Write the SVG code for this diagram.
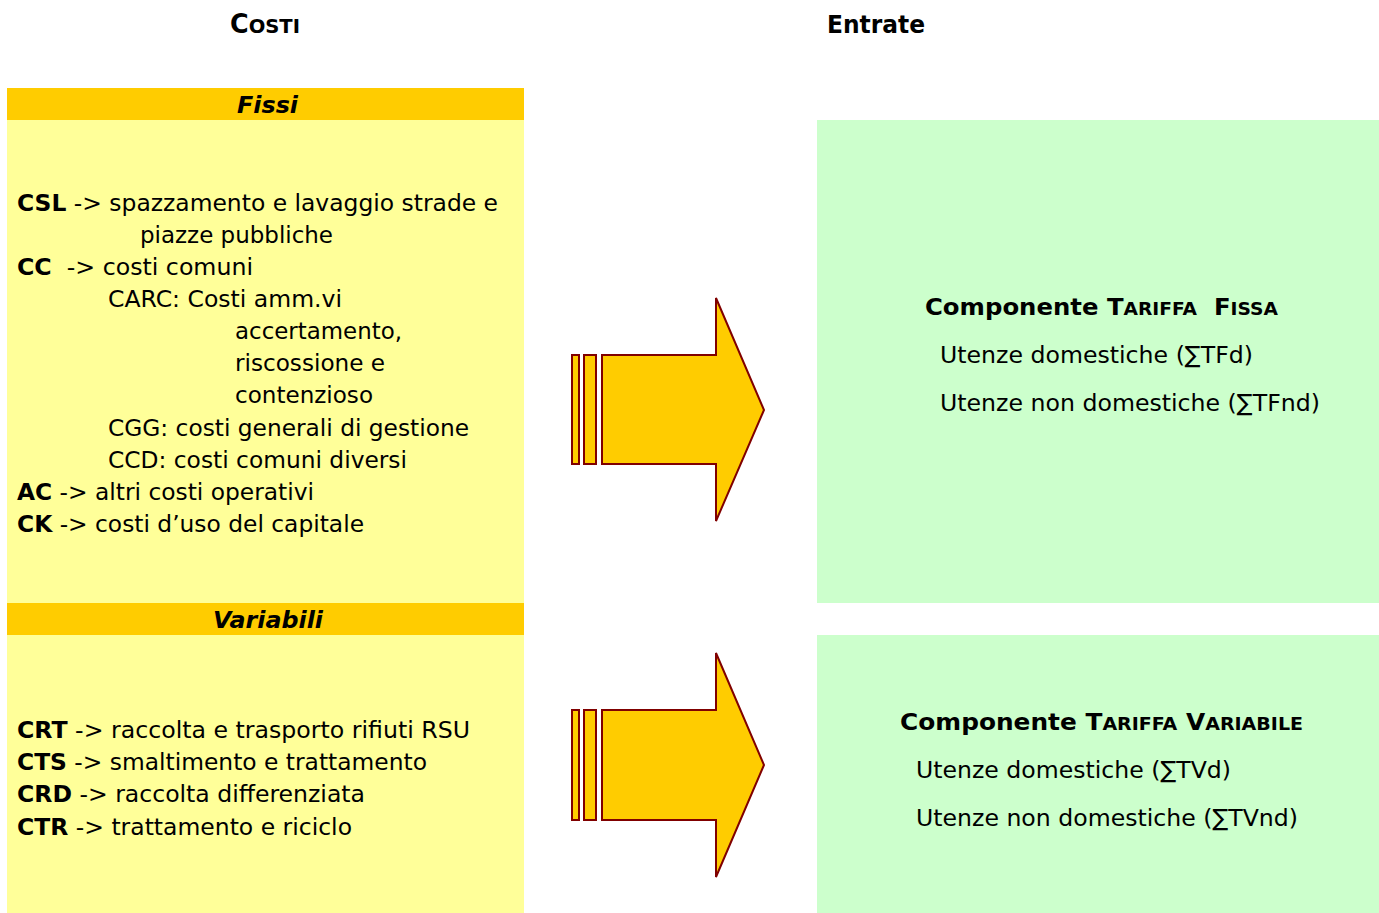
<svg xmlns="http://www.w3.org/2000/svg" width="1379" height="913" viewBox="0 0 1379 913">
<style>
text{font-family:"DejaVu Sans",sans-serif;font-size:23.5px;fill:#000;white-space:pre}
.b{font-weight:bold}
.sc{font-size:18px}
.hd{font-weight:bold;font-style:italic}
.band{fill:#FFCC00}
.pale{fill:#FFFF99}
.green{fill:#CCFFCC}
.arr{fill:#FFCC00;stroke:#800000;stroke-width:2}
</style>
<rect width="1379" height="913" fill="#fff"/>
<g id="title-costi"><text x="230" y="33" class="b" style="font-size:26px" textLength="70" lengthAdjust="spacingAndGlyphs">C<tspan style="font-size:20px">OSTI</tspan></text></g>
<g id="title-entrate"><text x="827" y="33" class="b" style="font-size:25px" textLength="98" lengthAdjust="spacingAndGlyphs">Entrate</text></g>

<g id="fissi">
<rect class="pale" x="7" y="120" width="517" height="483"/>
<rect class="band" x="7" y="88" width="517" height="32"/>
<text x="237" y="113" class="hd" textLength="61" lengthAdjust="spacingAndGlyphs">Fissi</text>
<text x="17" y="211" textLength="481" lengthAdjust="spacingAndGlyphs"><tspan class="b">CSL</tspan> -&gt; spazzamento e lavaggio strade e</text>
<text x="140" y="243" textLength="193" lengthAdjust="spacingAndGlyphs">piazze pubbliche</text>
<text x="17" y="275" textLength="236" lengthAdjust="spacingAndGlyphs"><tspan class="b">CC</tspan>  -&gt; costi comuni</text>
<text x="108" y="307" textLength="234" lengthAdjust="spacingAndGlyphs">CARC: Costi amm.vi</text>
<text x="235" y="339" textLength="167" lengthAdjust="spacingAndGlyphs">accertamento,</text>
<text x="235" y="371" textLength="150" lengthAdjust="spacingAndGlyphs">riscossione e</text>
<text x="235" y="403" textLength="138" lengthAdjust="spacingAndGlyphs">contenzioso</text>
<text x="108" y="436" textLength="361" lengthAdjust="spacingAndGlyphs">CGG: costi generali di gestione</text>
<text x="108" y="468" textLength="299" lengthAdjust="spacingAndGlyphs">CCD: costi comuni diversi</text>
<text x="17" y="500" textLength="297" lengthAdjust="spacingAndGlyphs"><tspan class="b">AC</tspan> -&gt; altri costi operativi</text>
<text x="17" y="532" textLength="347" lengthAdjust="spacingAndGlyphs"><tspan class="b">CK</tspan> -&gt; costi d’uso del capitale</text>
</g>

<g id="variabili">
<rect class="pale" x="7" y="635" width="517" height="278"/>
<rect class="band" x="7" y="603" width="517" height="32"/>
<text x="213" y="628" class="hd" textLength="110" lengthAdjust="spacingAndGlyphs">Variabili</text>
<text x="17" y="738" textLength="453" lengthAdjust="spacingAndGlyphs"><tspan class="b">CRT</tspan> -&gt; raccolta e trasporto rifiuti RSU</text>
<text x="17" y="770" textLength="410" lengthAdjust="spacingAndGlyphs"><tspan class="b">CTS</tspan> -&gt; smaltimento e trattamento</text>
<text x="17" y="802" textLength="348" lengthAdjust="spacingAndGlyphs"><tspan class="b">CRD</tspan> -&gt; raccolta differenziata</text>
<text x="17" y="835" textLength="335" lengthAdjust="spacingAndGlyphs"><tspan class="b">CTR</tspan> -&gt; trattamento e riciclo</text>
</g>

<g id="tariffa-fissa">
<rect class="green" x="817" y="120" width="562" height="483"/>
<text x="925" y="315" class="b" textLength="353" lengthAdjust="spacingAndGlyphs">Componente T<tspan class="sc">ARIFFA</tspan>  F<tspan class="sc">ISSA</tspan></text>
<text x="940" y="363" textLength="313" lengthAdjust="spacingAndGlyphs">Utenze domestiche (∑TFd)</text>
<text x="940" y="411" textLength="380" lengthAdjust="spacingAndGlyphs">Utenze non domestiche (∑TFnd)</text>
</g>

<g id="tariffa-variabile">
<rect class="green" x="817" y="635" width="562" height="278"/>
<text x="900" y="730" class="b" textLength="403" lengthAdjust="spacingAndGlyphs">Componente T<tspan class="sc">ARIFFA</tspan> V<tspan class="sc">ARIABILE</tspan></text>
<text x="916" y="778" textLength="315" lengthAdjust="spacingAndGlyphs">Utenze domestiche (∑TVd)</text>
<text x="916" y="826" textLength="382" lengthAdjust="spacingAndGlyphs">Utenze non domestiche (∑TVnd)</text>
</g>

<g id="connectors">
<g id="arrow-fissi">
<rect class="arr" x="572" y="355" width="7" height="109"/>
<rect class="arr" x="584" y="355" width="12" height="109"/>
<path class="arr" d="M602 355 H716 V298 L764 410 L716 521 V464 H602 Z"/>
</g>
<g id="arrow-variabili">
<rect class="arr" x="572" y="710" width="7" height="110"/>
<rect class="arr" x="584" y="710" width="12" height="110"/>
<path class="arr" d="M602 710 H716 V653 L764 765 L716 877 V820 H602 Z"/>
</g>
</g>
</svg>
